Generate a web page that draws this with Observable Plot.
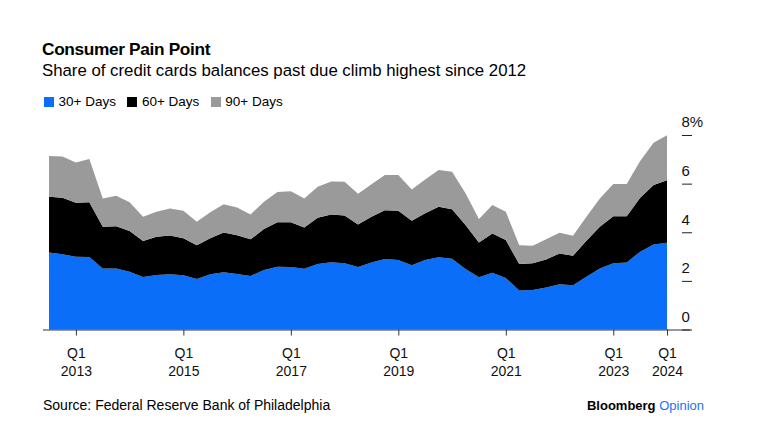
<!DOCTYPE html>
<html>
<head>
<meta charset="utf-8">
<script src="https://cdn.jsdelivr.net/npm/d3@7"></script>
<script src="https://cdn.jsdelivr.net/npm/@observablehq/plot@0.6"></script>
<style>
  html, body { margin: 0; padding: 0; background: #fff; }
  body { width: 761px; height: 447px; position: relative; overflow: hidden;
         font-family: "Liberation Sans", Arial, sans-serif; color: #000; }
  .abs { position: absolute; white-space: nowrap; line-height: 1; }
  #title { left: 42px; top: 40.6px; font-size: 17.3px; font-weight: bold; letter-spacing: -0.35px; }
  #subtitle { left: 42px; top: 62.5px; font-size: 16.8px; }
  #legend { left: 44px; top: 95.3px; font-size: 13.5px; display: flex; align-items: center; }
  #legend .item { display: flex; align-items: center; margin-right: 11.5px; }
  #legend .sw { width: 10px; height: 10px; margin-right: 4.5px; }
  #chart { position: absolute; left: 0; top: 110px; }
  #source { left: 43px; top: 398px; font-size: 14px; }
  #brand { right: 57px; top: 398.5px; font-size: 13px; }
  #brand b { font-weight: bold; }
</style>
</head>
<body>
<div id="title" class="abs">Consumer Pain Point</div>
<div id="subtitle" class="abs">Share of credit cards balances past due climb highest since 2012</div>
<div id="legend" class="abs"></div>
<div id="chart"></div>
<div id="source" class="abs">Source: Federal Reserve Bank of Philadelphia</div>
<div id="brand" class="abs"><b>Bloomberg</b> <span style="color:#1a72f0">Opinion</span></div>
<script>
// Quarterly data: Q3 2012 .. Q1 2024 (47 quarters)
const startYear = 2012.5; // Q3 2012
const seriesNames = ["30+ Days", "60+ Days", "90+ Days"];
const seriesColors = ["#0a6ef8", "#000000", "#9a9a9a"];

const days30 = [3.17,3.10,2.99,2.98,2.51,2.51,2.38,2.16,2.24,2.27,2.23,2.08,2.27,2.35,2.28,2.20,2.45,2.58,2.57,2.50,2.69,2.77,2.72,2.57,2.76,2.90,2.86,2.64,2.86,2.97,2.91,2.49,2.15,2.33,2.12,1.60,1.62,1.73,1.86,1.82,2.17,2.51,2.72,2.76,3.20,3.50,3.57];
const days60 = [2.29,2.32,2.22,2.25,1.72,1.74,1.67,1.48,1.57,1.60,1.52,1.39,1.48,1.64,1.60,1.51,1.68,1.83,1.84,1.70,1.91,1.96,1.97,1.75,1.88,2.01,2.02,1.83,1.92,2.08,2.04,1.81,1.43,1.62,1.56,1.09,1.10,1.15,1.27,1.21,1.48,1.72,1.94,1.90,2.22,2.44,2.57];
const days90 = [1.68,1.70,1.66,1.78,1.16,1.25,1.18,1.00,1.03,1.11,1.13,0.96,1.07,1.16,1.14,1.02,1.12,1.25,1.28,1.19,1.27,1.36,1.39,1.26,1.33,1.44,1.47,1.29,1.39,1.51,1.54,1.30,0.96,1.17,1.16,0.78,0.72,0.83,0.85,0.83,0.99,1.16,1.32,1.32,1.51,1.74,1.85];

const xTickYears = [2013, 2015, 2017, 2019, 2021, 2023, 2024];
const xTickPrefix = "Q1";
const yTicks = [0, 2, 4, 6, 8];

// Legend
const legend = document.getElementById("legend");
seriesNames.forEach((n, i) => {
  const it = document.createElement("div"); it.className = "item";
  const sw = document.createElement("div"); sw.className = "sw"; sw.style.background = seriesColors[i];
  const tx = document.createElement("span"); tx.textContent = n;
  it.appendChild(sw); it.appendChild(tx); legend.appendChild(it);
});

// Tidy table
const seriesValues = [days30, days60, days90];
const table = [];
seriesNames.forEach((name, s) => {
  seriesValues[s].forEach((v, i) => table.push({x: startYear + i * 0.25, y: v, series: name}));
});

const plot = Plot.plot({
  width: 761,
  height: 280,
  marginLeft: 43,
  marginRight: 80,
  marginTop: 25,
  marginBottom: 60.5,
  style: {fontFamily: "'Liberation Sans', Arial, sans-serif", color: "#000", background: "transparent", overflow: "visible"},
  x: {domain: [2012.388, 2024.260]},
  y: {domain: [0, 8]},
  color: {domain: seriesNames, range: seriesColors},
  marks: [
    Plot.areaY(table, {x: "x", y: "y", z: "series", fill: "series", curve: "linear", order: seriesNames}),
    Plot.ruleY([{y: 0, x1: 2012.388, x2: 2024.427}], {y: "y", x1: "x1", x2: "x2", stroke: "#333", strokeWidth: 1}),
    Plot.axisX({ticks: xTickYears, tickFormat: d => xTickPrefix + "\n" + d, tickSize: 6, tickPadding: 9,
                fontSize: 14, lineHeight: 1.3, stroke: "#333", fill: "#111", label: null}),
    // tick dashes (no labels)
    Plot.axisY({anchor: "right", ticks: yTicks, tickFormat: () => "", tickSize: 10, stroke: "#222", label: null}),
    // labels above the dashes
    Plot.axisY({anchor: "right", ticks: yTicks, tickFormat: d => d === 8 ? "8%" : String(d),
                tickSize: 0, tickPadding: 0, textAnchor: "start", dy: -13, fontSize: 15,
                fill: "#111", label: null})
  ]
});
document.getElementById("chart").appendChild(plot);
</script>
</body>
</html>
